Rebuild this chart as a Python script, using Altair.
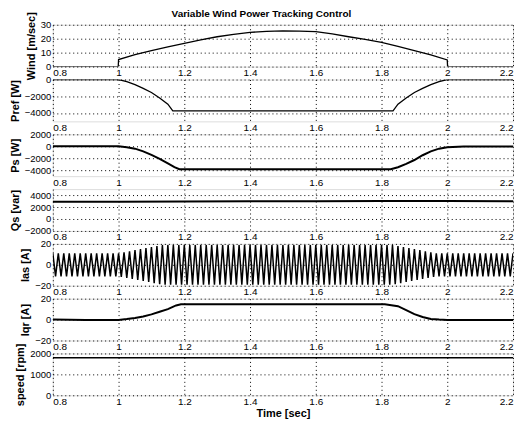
import altair as alt
import pandas as pd

# ---------------- data ----------------
x_ticks = [0.8, 1.0, 1.2, 1.4, 1.6, 1.8, 2.0, 2.2]

wind_t = [0.8, 0.999, 1.0, 1.05, 1.1, 1.15, 1.2, 1.25, 1.3, 1.35, 1.4, 1.45, 1.5,
          1.55, 1.6, 1.65, 1.7, 1.75, 1.8, 1.85, 1.9, 1.95, 2.0, 2.001, 2.2]
wind_v = [0, 0, 5, 8.5, 11.4, 14.2, 16.6, 19.2, 21.4, 23.1, 24.5, 25.3, 25.6,
          25.5, 25.0, 23.4, 21.4, 19.5, 17.4, 14.5, 11.4, 8.4, 4.8, 0, 0]

pref_t = [0.8, 1.0, 1.025, 1.05, 1.075, 1.1, 1.125, 1.15, 1.165, 1.835, 1.85,
          1.875, 1.9, 1.925, 1.95, 1.975, 2.0, 2.2]
pref_v = [0, 0, -250, -600, -1050, -1550, -2200, -2950, -3750, -3750, -2950,
          -2200, -1550, -1050, -600, -250, 0, 0]

ps_t = [0.8, 0.9, 1.0, 1.025, 1.05, 1.075, 1.1, 1.125, 1.15, 1.17, 1.185, 1.5,
        1.828, 1.85, 1.875, 1.9, 1.925, 1.95, 1.975, 2.0, 2.05, 2.2]
ps_v = [0, 0, 0, -150, -400, -850, -1430, -2100, -2860, -3500, -3850, -3850,
        -3850, -3500, -2950, -2300, -1500, -850, -400, -150, -50, -50]

qs_t = [0.8, 1.0, 1.2, 1.4, 1.6, 1.8, 2.0, 2.2]
qs_v = [2900, 2900, 2920, 2950, 2980, 3000, 3000, 2980]

# peak magnitude of each half-cycle of the ~60 Hz stator current
ias_peak = [
    11, 11, 11, 11, 11, 11, 11, 11, 11, 11, 11, 11, 11, 11, 11, 11, 11, 11, 11, 11,
    11, 11, 11, 11, 11,
    11.5, 12, 12.5, 13, 13.5, 14, 14.5, 15, 15.5, 16, 16.5, 17, 17.5, 18, 18.5,
    19, 19, 19, 19,
    19, 19, 19, 19, 19, 19, 19, 19, 19, 19, 19, 19, 19, 19, 19, 19, 19, 19, 19, 19,
    19, 19, 19, 19, 19, 19, 19, 19, 19, 19, 19, 19, 19, 19, 19, 19, 19, 19, 19, 19,
    19, 19, 19, 19, 19, 19, 19, 19, 19, 19, 19, 19, 19, 19, 19, 19, 19, 19, 19, 19,
    19, 19, 19, 19, 19, 19, 19, 19, 19, 19, 19, 19, 19, 19, 19, 19, 19, 19, 19, 19,
    19, 18.5, 18, 17.5, 17, 16.5, 16, 15.5, 15, 14.5, 14, 13.5, 13, 12.5, 12, 11.5,
    11, 11, 11, 11,
    11, 11, 11, 11, 11, 11, 11, 11, 11, 11, 11, 11, 11, 11, 11, 11, 11, 11, 11, 11,
    11, 11, 11, 11, 11,
]
ias_half_period = 1 / 120  # 60 Hz
ias_t = [round(0.8 + k * ias_half_period, 6) for k in range(len(ias_peak))]
ias_v = [p if k % 2 == 0 else -p for k, p in enumerate(ias_peak)]

iqr_t = [0.8, 0.9, 1.0, 1.025, 1.05, 1.075, 1.1, 1.125, 1.15, 1.175, 1.19, 1.5,
         1.81, 1.825, 1.85, 1.875, 1.9, 1.925, 1.95, 1.975, 2.0, 2.2]
iqr_v = [0, -0.3, -0.3, 0.5, 1.5, 3, 5, 7.5, 10, 13.5, 14.6, 14.6,
         14.6, 14, 12.8, 9, 5.2, 2.5, 0.6, 0, -0.3, -0.3]

speed_t = [0.8, 1.0, 1.001, 1.6, 2.2]
speed_v = [1800, 1800, 1790, 1790, 1790]

panels_spec = [
    ("Wind [m/sec]", wind_t, wind_v, [0, 30], [0, 10, 20, 30], 1.3),
    ("Pref [W]", pref_t, pref_v, [-5000, 0], [-4000, -2000, 0], 1.3),
    ("Ps [W]", ps_t, ps_v, [-5000, 2000], [-4000, -2000, 0, 2000], 2.0),
    ("Qs [var]", qs_t, qs_v, [-2000, 5000], [-2000, 0, 2000, 4000], 2.0),
    ("Ias [A]", ias_t, ias_v, [-20, 20], [-20, 0, 20], 1.5),
    ("Iqr [A]", iqr_t, iqr_v, [-20, 20], [-20, 0, 20], 2.0),
    ("speed [rpm]", speed_t, speed_v, [0, 2000], [0, 1000, 2000], 1.5),
]

PW, PH = 462, 42
grid_style = dict(grid=True, gridColor="#000000", gridDash=[1, 3], gridOpacity=1,
                  gridWidth=1, ticks=True, tickSize=0, domain=False,
                  labelOverlap=False, labelBound=False)

charts = []
for i, (title, ts, vs, dom, ticks, sw) in enumerate(panels_spec):
    df = pd.DataFrame({"t": ts, "v": vs})
    last = i == len(panels_spec) - 1
    xaxis = alt.Axis(values=x_ticks, format="~g", title="Time [sec]" if last else None,
                     labelPadding=1, titlePadding=1, labelFlush=True, **grid_style)
    ch = alt.Chart(df).mark_line(color="black", strokeWidth=sw, clip=True).encode(
        x=alt.X("t:Q", scale=alt.Scale(domain=[0.8, 2.2], nice=False, zero=False), axis=xaxis),
        y=alt.Y("v:Q", scale=alt.Scale(domain=dom, nice=False, zero=False),
                axis=alt.Axis(values=ticks, title=title, format="d", labelFlush=False,
                              labelFontSize=9.5, **grid_style)),
    ).properties(width=PW, height=PH)
    charts.append(ch)

chart = alt.vconcat(*charts, spacing=13, bounds="flush").properties(
    title=alt.TitleParams("Variable Wind Power Tracking Control", anchor="middle",
                          fontSize=10, fontWeight="bold", font="Liberation Sans", offset=-8),
    padding={"left": 0, "top": 0, "right": 0, "bottom": 0},
).configure_view(
    stroke="black", strokeWidth=1.5
).configure_axis(
    labelFont="Liberation Sans", labelFontSize=10, labelFontWeight="bold", labelColor="black",
    titleFont="Liberation Sans", titleFontSize=9, titleFontWeight="bold", titleColor="black",
    labelPadding=1, titlePadding=1, labelOverlap=False,
).configure(background="white")

chart.save("out.html", embed_options={"renderer": "svg", "actions": False})
